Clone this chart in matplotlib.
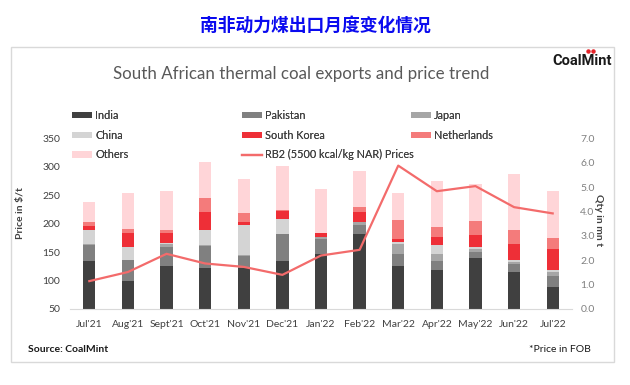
import numpy as np
import matplotlib.pyplot as plt
from matplotlib.lines import Line2D
from matplotlib.patches import Rectangle

plt.rcParams['font.family'] = ['Lato', 'DejaVu Sans']

months = ["Jul'21", "Aug'21", "Sept'21", "Oct'21", "Nov'21", "Dec'21", "Jan'22",
          "Feb'22", "Mar'22", "Apr'22", "May'22", "Jun'22", "Jul'22"]

# export quantities in mn t
india = [1.95, 1.15, 1.77, 1.70, 1.70, 1.97, 2.26, 3.07, 1.77, 1.58, 2.08, 1.50, 0.92]
pakistan = [0.69, 0.86, 0.79, 0.89, 0.49, 1.10, 0.63, 0.37, 0.48, 0.40, 0.25, 0.34, 0.45]
japan = [0.02, 0.00, 0.09, 0.03, 0.02, 0.00, 0.08, 0.12, 0.40, 0.28, 0.12, 0.10, 0.13]
china = [0.58, 0.55, 0.06, 0.60, 1.23, 0.62, 0.00, 0.00, 0.08, 0.35, 0.08, 0.06, 0.10]
south_korea = [0.17, 0.56, 0.39, 0.76, 0.14, 0.32, 0.14, 0.42, 0.13, 0.35, 0.49, 0.66, 0.87]
netherlands = [0.16, 0.17, 0.16, 0.59, 0.36, 0.05, 0.02, 0.19, 0.79, 0.40, 0.59, 0.59, 0.45]
others = [0.83, 1.48, 1.58, 1.44, 1.39, 1.80, 1.80, 1.50, 1.12, 1.89, 1.51, 2.30, 1.92]

# RB2 price, $/t FOB
rb2_price = [99, 115, 147, 130, 124, 110, 144, 154, 302, 257, 266, 229, 218]

series = [("India", india, "#404040"),
          ("Pakistan", pakistan, "#808080"),
          ("Japan", japan, "#a6a6a6"),
          ("China", china, "#d4d4d4"),
          ("South Korea", south_korea, "#ee2f37"),
          ("Netherlands", netherlands, "#f47b7b"),
          ("Others", others, "#ffd5d8")]
line_color = "#f36b6b"
txt = "#404040"

fig = plt.figure(figsize=(6.3, 3.85), dpi=100)

# frame around the chart
fig.add_artist(Rectangle((11 / 630, 1 - 362 / 385), 603 / 630, 315 / 385,
                         transform=fig.transFigure, fill=False,
                         edgecolor="#d9d9d9", lw=1))

fig.text(315 / 630, 1 - 26 / 385, "南非动力煤出口月度变化情况", ha="center", va="center",
         fontsize=12.8, fontweight="bold", color="#0a0aef",
         family=["Noto Sans CJK SC", "DejaVu Sans"])
fig.text(301 / 630, 1 - 74 / 385, "South African thermal coal exports and price trend",
         ha="center", va="center", fontsize=12.2, color="#595959")
fig.text(612 / 630, 1 - 61 / 385, "CoalMint", ha="right", va="center",
         fontsize=10.5, fontweight="bold", color="#1a1a1a", family="Roboto")
fig.add_artist(Line2D([588 / 630, 593 / 630], [1 - 51 / 385, 1 - 51 / 385],
                      transform=fig.transFigure, ls="none", marker="o",
                      ms=2.2, color="#e52329"))

ax = fig.add_axes([70 / 630, 1 - 309 / 385, 502 / 630, 170.7 / 385])
axp = ax.twinx()

x = np.arange(len(months))
bottom = np.zeros(len(months))
handles = {}
for name, vals, col in series:
    b = ax.bar(x, vals, 0.32, bottom=bottom, color=col, label=name, zorder=2)
    handles[name] = b
    bottom += np.array(vals)

ax.set_xlim(-0.5, len(months) - 0.5)
ax.set_ylim(0, 7)
ax.set_yticks(np.arange(0, 7.1, 1))
ax.set_yticklabels([f"{v:.1f}" for v in np.arange(0, 7.1, 1)])
ax.yaxis.tick_right()
ax.tick_params(axis="y", length=0, pad=6, labelsize=7.5, labelcolor="#808080")
ax.set_xticks(x)
ax.set_xticklabels(months)
ax.tick_params(axis="x", length=0, pad=8, labelsize=7.5, labelcolor=txt)
ax.set_ylabel("Qty in mn t", rotation=270, fontsize=7.5, color=txt, fontweight="bold",
              va="center")
ax.yaxis.set_label_position("right")
ax.yaxis.set_label_coords(1.062, 0.52)
for s in ["top", "left", "right"]:
    ax.spines[s].set_visible(False)
ax.spines["bottom"].set_color("#d9d9d9")

ln, = axp.plot(x, rb2_price, color=line_color, lw=1.6, zorder=3,
               label="RB2 (5500 kcal/kg NAR) Prices")
axp.set_ylim(50, 350)
axp.set_yticks(range(50, 351, 50))
axp.yaxis.tick_left()
axp.tick_params(axis="y", length=0, pad=7, labelsize=7.5, labelcolor=txt)
axp.set_ylabel("Price in $/t", fontsize=7.5, color=txt, fontweight="bold", va="center")
axp.yaxis.set_label_position("left")
axp.yaxis.set_label_coords(-0.09, 0.56)
for s in axp.spines.values():
    s.set_visible(False)

# legend in three columns laid out like the original
cols = [["India", "China", "Others"],
        ["Pakistan", "South Korea", "RB2"],
        ["Japan", "Netherlands"]]
col_x = [72, 242, 411]
for cx, names in zip(col_x, cols):
    hs = [ln if n == "RB2" else handles[n] for n in names]
    labs = [h.get_label() for h in hs]
    leg = fig.legend(hs, labs, loc="upper left",
                     bbox_to_anchor=(cx / 630, 1 - 110 / 385), frameon=False,
                     fontsize=7.8, borderpad=0, borderaxespad=0,
                     handlelength=1.85, handleheight=0.55, handletextpad=0.3,
                     labelspacing=0.8, labelcolor=txt)
    fig.add_artist(leg)

fig.text(28 / 630, 1 - 349 / 385, "Source: CoalMint", ha="left", va="center",
         fontsize=7.5, fontweight="bold", color="#1a1a1a")
fig.text(591 / 630, 1 - 349 / 385, "*Price in FOB", ha="right", va="center",
         fontsize=7.5, color="#1a1a1a")

fig.savefig("out.png", dpi=100)
